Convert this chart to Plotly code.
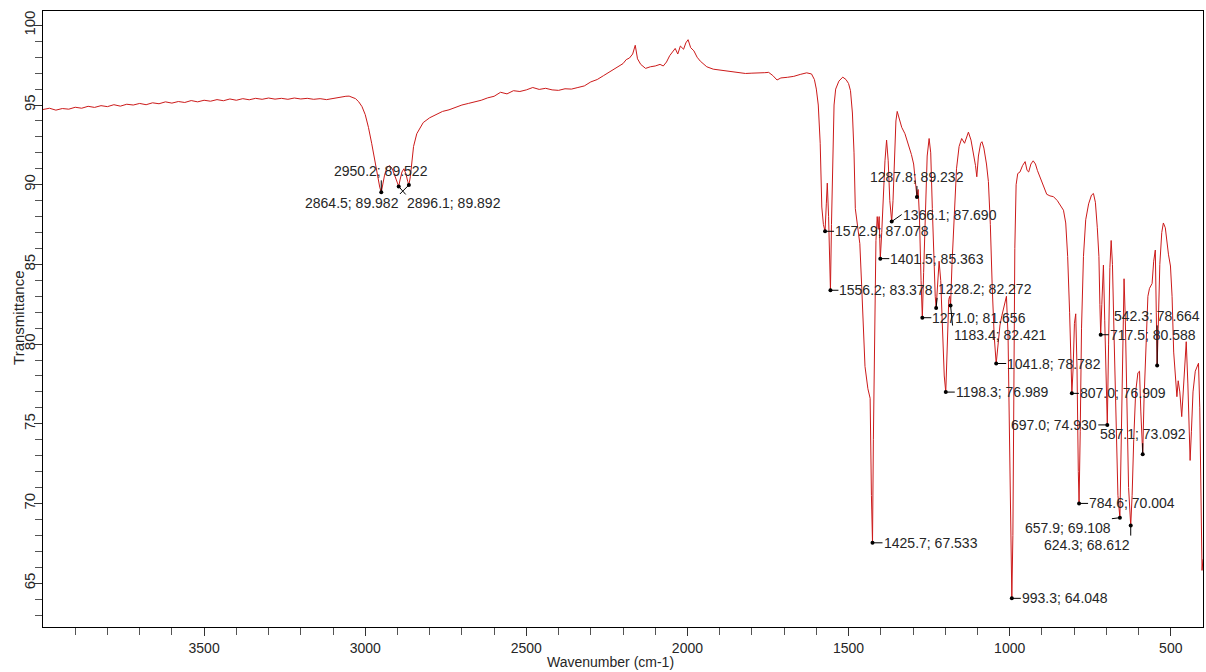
import plotly.graph_objects as go

# ---- spectrum (wavenumber cm-1, transmittance %) ----
wavenumber = [
    4000, 3980, 3960, 3940, 3920, 3900, 3880, 3860, 3840, 3820, 3800, 3780, 3760, 3740, 3720, 3700,
    3680, 3660, 3640, 3620, 3600, 3580, 3560, 3540, 3520, 3500, 3480, 3460, 3440, 3420, 3400, 3380,
    3360, 3340, 3320, 3300, 3280, 3260, 3240, 3220, 3200, 3180, 3160, 3140, 3120, 3100, 3080, 3060,
    3050, 3040, 3030, 3020, 3010, 3000, 2990, 2980, 2970, 2960, 2955, 2950.2, 2946, 2940, 2932, 2924,
    2916, 2908, 2900, 2896.1, 2892, 2886, 2880, 2874, 2868, 2864.5, 2860, 2855, 2850, 2840, 2830, 2820,
    2800, 2780, 2760, 2740, 2720, 2700, 2680, 2660, 2640, 2620, 2600, 2580, 2560, 2540, 2520, 2500,
    2480, 2460, 2440, 2420, 2400, 2380, 2360, 2340, 2320, 2300, 2280, 2260, 2240, 2220, 2200, 2190,
    2180, 2170, 2162, 2155, 2145, 2130, 2115, 2100, 2085, 2075, 2065, 2055, 2045, 2038, 2030, 2022,
    2012, 2005, 1998, 1990, 1980, 1970, 1960, 1950, 1940, 1920, 1900, 1880, 1860, 1840, 1820, 1800,
    1780, 1760, 1748, 1735, 1722, 1710, 1690, 1670, 1650, 1630, 1615, 1606, 1600, 1594, 1588, 1583,
    1578, 1572.9, 1569, 1566, 1562, 1559, 1556.2, 1553, 1549, 1545, 1540, 1530, 1518, 1508, 1500, 1494,
    1488, 1483, 1479, 1472, 1465, 1459, 1454, 1449, 1440, 1433, 1429, 1425.7, 1423, 1419, 1415, 1411,
    1408, 1405, 1401.5, 1397, 1392, 1387, 1382, 1377, 1372, 1366.1, 1362, 1357, 1353, 1349, 1343, 1335,
    1325, 1315, 1305, 1298, 1292, 1287.8, 1284, 1280, 1275, 1271, 1267, 1262, 1256, 1250, 1245, 1240,
    1235, 1231, 1228.2, 1224, 1219, 1214, 1208, 1203, 1198.3, 1194, 1189, 1186, 1183.4, 1179, 1172, 1165,
    1157, 1149, 1140, 1133, 1128, 1120, 1112, 1106, 1102, 1097, 1090, 1086, 1080, 1072, 1066, 1060,
    1054, 1048, 1041.8, 1036, 1030, 1024, 1016, 1010, 1005, 1000, 996, 993.3, 990, 987, 984, 980,
    975, 968, 960, 952, 946, 941, 934, 927, 920, 914, 908, 900, 892, 885, 875, 864,
    852, 842, 833, 826, 820, 814, 810, 807, 803, 799, 795, 791, 787, 784.6, 781, 777,
    771, 764, 755, 746, 740, 734, 728, 723, 720, 717.5, 714, 709, 705, 701, 697, 693,
    689, 685, 681, 676, 670, 664, 657.9, 653, 649, 645, 641, 636, 631, 624.3, 620, 615,
    609, 602, 597, 593, 590, 587.1, 583, 577, 571, 566, 558, 553, 548, 545, 542.3, 539,
    534, 528, 523, 517, 512, 507, 501, 496, 491, 486, 481, 477, 472, 466, 461, 456,
    452, 447, 443, 440, 436, 431, 424, 418, 414, 410, 406, 403, 400,
]
transmittance = [
    94.72, 94.80, 94.68, 94.78, 94.74, 94.86, 94.80, 94.92, 94.85, 94.96, 94.90, 95.02, 94.93, 95.05, 95.00, 95.10,
    95.02, 95.14, 95.08, 95.20, 95.12, 95.22, 95.16, 95.28, 95.20, 95.30, 95.24, 95.34, 95.27, 95.38, 95.30, 95.40,
    95.33, 95.42, 95.36, 95.44, 95.37, 95.42, 95.36, 95.44, 95.38, 95.42, 95.36, 95.40, 95.34, 95.42, 95.48, 95.55,
    95.56, 95.48, 95.40, 95.20, 94.90, 94.40, 93.60, 92.60, 91.40, 90.30, 89.85, 89.522, 89.90, 90.60, 91.10, 91.20,
    91.00, 90.50, 90.00, 89.892, 90.30, 90.80, 91.00, 90.70, 90.20, 89.982, 90.50, 91.60, 92.40, 93.20, 93.60, 93.90,
    94.20, 94.40, 94.60, 94.70, 94.85, 95.00, 95.10, 95.20, 95.30, 95.45, 95.55, 95.80, 95.70, 95.90, 95.85, 95.95,
    96.10, 95.98, 96.05, 95.95, 95.92, 96.02, 96.00, 96.10, 96.20, 96.45, 96.60, 96.85, 97.10, 97.30, 97.60, 97.85,
    97.95, 98.20, 98.75, 97.90, 97.55, 97.30, 97.40, 97.45, 97.55, 97.45, 97.70, 98.10, 98.40, 98.55, 98.20, 98.70,
    98.50, 98.90, 99.10, 98.60, 98.40, 98.00, 97.75, 97.55, 97.40, 97.25, 97.20, 97.12, 97.08, 97.05, 96.98, 97.00,
    97.00, 97.03, 97.05, 96.85, 96.57, 96.70, 96.74, 96.80, 96.92, 97.02, 96.95, 96.60, 96.00, 95.00, 92.60, 88.60,
    87.50, 87.078, 88.80, 90.10, 88.00, 85.30, 83.378, 87.50, 92.50, 95.00, 96.00, 96.50, 96.75, 96.60, 96.35, 95.90,
    94.50, 92.00, 88.50, 87.30, 86.30, 83.50, 81.50, 78.60, 77.20, 76.60, 70.50, 67.533, 74.00, 82.00, 86.50, 88.00,
    87.20, 88.00, 85.363, 87.00, 89.50, 91.50, 92.80, 91.50, 89.00, 87.690, 89.00, 92.00, 94.00, 94.60, 94.20, 93.60,
    93.20, 92.60, 91.90, 91.30, 90.20, 89.232, 89.70, 88.00, 84.00, 81.656, 84.50, 88.50, 91.80, 92.90, 92.00, 88.50,
    85.00, 83.00, 82.272, 84.00, 85.20, 84.00, 80.50, 78.00, 76.989, 79.50, 82.80, 83.00, 82.421, 85.00, 88.50, 91.00,
    92.40, 92.90, 92.60, 93.00, 93.30, 92.80, 92.00, 91.20, 90.50, 91.80, 92.60, 92.70, 92.30, 91.30, 90.20, 87.50,
    83.50, 80.50, 78.782, 80.20, 81.20, 81.80, 82.60, 83.00, 80.50, 73.00, 66.50, 64.048, 68.00, 78.00, 86.00, 90.00,
    90.70, 90.80, 91.20, 91.45, 90.90, 90.80, 91.30, 91.50, 91.30, 90.90, 90.60, 90.20, 89.70, 89.40, 89.30, 89.25,
    89.00, 88.70, 88.40, 87.60, 85.50, 82.00, 78.50, 76.909, 78.50, 81.30, 81.90, 78.50, 72.00, 70.004, 74.50, 81.00,
    85.50, 87.80, 88.80, 89.35, 89.45, 88.90, 87.30, 85.50, 82.50, 80.588, 82.50, 84.96, 81.50, 77.00, 74.930, 80.00,
    84.80, 86.50, 85.00, 80.50, 75.00, 70.50, 69.108, 75.00, 81.00, 84.10, 81.50, 76.00, 71.00, 68.612, 70.50, 74.00,
    77.00, 78.20, 78.30, 75.80, 73.80, 73.092, 76.50, 80.50, 83.00, 83.50, 83.80, 85.20, 85.90, 82.00, 78.664, 81.00,
    85.00, 87.00, 87.60, 87.30, 86.40, 85.60, 84.90, 83.00, 79.50, 77.80, 76.70, 77.70, 77.00, 75.45, 77.00, 79.20,
    80.15, 77.50, 74.00, 72.70, 74.50, 77.00, 78.30, 78.60, 78.80, 76.00, 70.00, 65.80, 66.50,
]

# ---- labelled peaks ----
peak_wn = [2950.2, 2864.5, 2896.1, 1287.8, 1366.1, 1572.9, 1401.5, 1556.2, 1228.2, 1271.0, 1183.4, 1041.8,
           1198.3, 807.0, 697.0, 587.1, 784.6, 657.9, 624.3, 542.3, 717.5, 1425.7, 993.3]
peak_t = [89.522, 89.982, 89.892, 89.232, 87.690, 87.078, 85.363, 83.378, 82.272, 81.656, 82.421, 78.782,
          76.989, 76.909, 74.930, 73.092, 70.004, 69.108, 68.612, 78.664, 80.588, 67.533, 64.048]

# label placement (pixel offset of the text from the peak point, and text anchor)
label_style = [
    (0, -12, "center", "bottom"),
    (-9, 9, "right", "top"),
    (7, 8, "left", "top"),
    (0, -11, "center", "bottom"),
    (10, -7, "left", "middle"),
    (9, 0, "left", "middle"),
    (9, 0, "left", "middle"),
    (8, 0, "left", "middle"),
    (1, -10, "left", "bottom"),
    (9, 0, "left", "middle"),
    (2, 20, "left", "top"),
    (10, 0, "left", "middle"),
    (9, 0, "left", "middle"),
    (7, 0, "left", "middle"),
    (-9, 0, "right", "middle"),
    (0, -11, "center", "bottom"),
    (9, 0, "left", "middle"),
    (-8, 1, "right", "top"),
    (0, 10, "right", "top"),
    (0, -40, "center", "bottom"),
    (8, 0, "left", "middle"),
    (10, 0, "left", "middle"),
    (9, 0, "left", "middle"),
]

x_major = [3500, 3000, 2500, 2000, 1500, 1000, 500]
y_major = [65, 70, 75, 80, 85, 90, 95, 100]

FONT = "Arial, 'Liberation Sans', sans-serif"
TXT = "#262626"

fig = go.Figure()
fig.add_trace(go.Scatter(
    x=wavenumber, y=transmittance, mode="lines",
    line=dict(color="#cc1a1a", width=1), hoverinfo="skip", showlegend=False,
))
fig.add_trace(go.Scatter(
    x=peak_wn, y=peak_t, mode="markers",
    marker=dict(color="black", size=4), hoverinfo="skip", showlegend=False,
))

for w, t, (ax, ay, xa, ya) in zip(peak_wn, peak_t, label_style):
    fig.add_annotation(
        x=w, y=t, text=f"{w:.1f}; {t:.3f}",
        showarrow=True, arrowhead=0, arrowwidth=1, arrowcolor="black",
        standoff=0, startstandoff=0,
        ax=ax, ay=ay, xanchor=xa, yanchor=ya, borderpad=0,
        font=dict(family=FONT, size=14, color=TXT),
    )

# axis titles
fig.add_annotation(
    text="Wavenumber (cm-1)", xref="paper", yref="paper", x=0.489, y=-0.0568,
    xanchor="center", yanchor="middle", showarrow=False,
    font=dict(family=FONT, size=14, color=TXT),
)
fig.add_annotation(
    text="Transmittance", xref="paper", yref="paper", x=-0.0216, y=0.5016,
    xanchor="center", yanchor="middle", showarrow=False, textangle=-90,
    font=dict(family=FONT, size=15, color=TXT),
)

fig.update_layout(
    width=1206, height=672,
    margin=dict(l=43, r=3, t=11, b=45, autoexpand=False),
    paper_bgcolor="white", plot_bgcolor="white",
    font=dict(family=FONT, size=14, color=TXT),
    showlegend=False,
)
fig.update_xaxes(
    range=[4000, 400], showgrid=False, zeroline=False, automargin=False,
    showline=True, linecolor="black", linewidth=1, mirror=True,
    ticks="outside", ticklen=8, tickcolor="#333", tickwidth=1,
    tickvals=x_major, ticktext=[str(v) for v in x_major],
    tickfont=dict(family=FONT, size=14, color=TXT),
    minor=dict(tickvals=list(range(3900, 400, -100)), ticks="outside", ticklen=7,
               tickcolor="#555", tickwidth=1),
)
fig.update_yaxes(
    range=[62.25, 100.9], showgrid=False, zeroline=False, automargin=False,
    showline=True, linecolor="black", linewidth=1, mirror=True,
    ticks="outside", ticklen=8, tickcolor="#333", tickwidth=1,
    tickvals=y_major, ticktext=[str(v) for v in y_major], tickangle=-90,
    ticklabelstandoff=-7,
    tickfont=dict(family=FONT, size=15, color=TXT),
    minor=dict(tickvals=list(range(63, 101)), ticks="outside", ticklen=7,
               tickcolor="#555", tickwidth=1),
)

fig.write_html(
    "out.html",
    config={"displayModeBar": False},
    post_script="document.body.style.margin='0';document.body.style.overflow='hidden';",
)
